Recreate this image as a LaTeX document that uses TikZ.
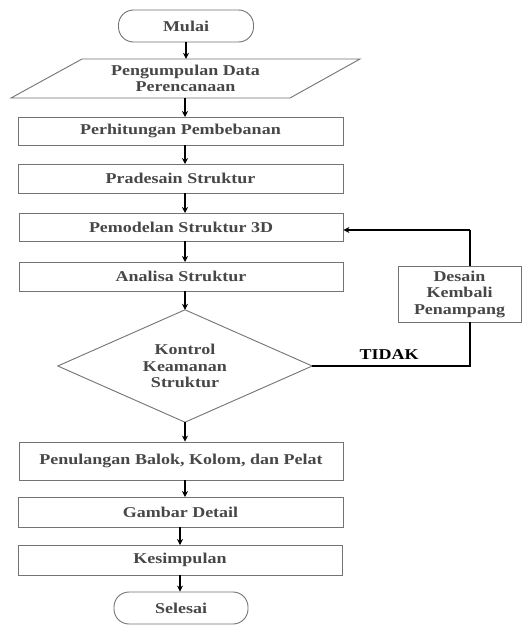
\documentclass[tikz,border=0pt]{standalone}
\usepackage{fontspec}
\setmainfont[FakeStretch=1.2]{Liberation Serif}
\usetikzlibrary{arrows.meta,calc}
\begin{document}
\begin{tikzpicture}[x=1pt,y=-1pt,
  txt/.style={font=\fontsize{15}{16.5}\selectfont\bfseries, text=black!72, align=center, inner sep=0pt},
  procbox/.style={txt, draw=black!55, line width=0.9pt, rectangle},
  termbox/.style={txt, draw=black!55, line width=0.9pt, rounded corners=15pt},
  flow/.style={line width=1.6pt, -{Stealth[length=6pt,width=6pt]}},
  link/.style={line width=1.6pt}]
\useasboundingbox (0,0) rectangle (528,626);
\fill[white] (0,0) rectangle (528,626);

\node[termbox, minimum width=135pt, minimum height=32pt] (mulai) at (186,26) {Mulai};
\node[txt, minimum width=208pt, minimum height=39pt] (data) at (185.5,78.5) {Pengumpulan Data\\Perencanaan};
\draw[draw=black!55, line width=0.9pt] (82,59) -- (360,59) -- (290,98) -- (11,98) -- cycle;
\node[procbox, minimum width=325pt, minimum height=28pt] (hitung) at (180.5,131) {Perhitungan Pembebanan};
\node[procbox, minimum width=325pt, minimum height=29pt] (pradesain) at (180.5,178.5) {Pradesain Struktur};
\node[procbox, minimum width=324pt, minimum height=28pt] (model) at (181,227) {Pemodelan Struktur 3D};
\node[procbox, minimum width=324pt, minimum height=29pt] (analisa) at (181,276.5) {Analisa Struktur};
\node[txt, minimum width=254pt, minimum height=112pt] (kontrol) at (185,366) {Kontrol\\Keamanan\\Struktur};
\draw[draw=black!55, line width=0.9pt] (kontrol.north) -- (kontrol.east) -- (kontrol.south) -- (kontrol.west) -- cycle;
\node[procbox, minimum width=324pt, minimum height=38pt] (tulangan) at (181,461) {Penulangan Balok, Kolom, dan Pelat};
\node[procbox, minimum width=325pt, minimum height=30pt] (gambar) at (180.5,512) {Gambar Detail};
\node[procbox, minimum width=324pt, minimum height=30pt] (simpul) at (180,560) {Kesimpulan};
\node[termbox, minimum width=134pt, minimum height=32pt] (selesai) at (181,608) {Selesai};
\node[procbox, minimum width=123pt, minimum height=56pt] (desain) at (459.5,294) {Desain\\Kembali\\Penampang};

\draw[flow] (mulai.south) -- (mulai.south |- data.north);
\draw[flow] (185,98) -- (185,117);
\draw[flow] (185,145) -- (185,164);
\draw[flow] (185,193) -- (185,213);
\draw[flow] (185,241) -- (185,262);
\draw[flow] (185,291) -- (kontrol.north);
\draw[flow] (kontrol.south) -- (kontrol.south |- tulangan.north);
\draw[flow] (185,480) -- (185,497);
\draw[flow] (180,527) -- (180,545);
\draw[flow] (simpul.south) -- (simpul.south |- selesai.north);

\coordinate (c1) at (470,366);
\coordinate (c2) at (470,230);
\draw[link] (kontrol.east) -- (c1) -- (c1 |- desain.south);
\draw[link] (c1 |- desain.north) -- (c2);
\draw[flow] (c2) -- (c2 -| model.east);
\node[font=\fontsize{15}{16.5}\selectfont\bfseries, inner sep=0pt] (tidak) at (389,355) {TIDAK};
\end{tikzpicture}
\end{document}
